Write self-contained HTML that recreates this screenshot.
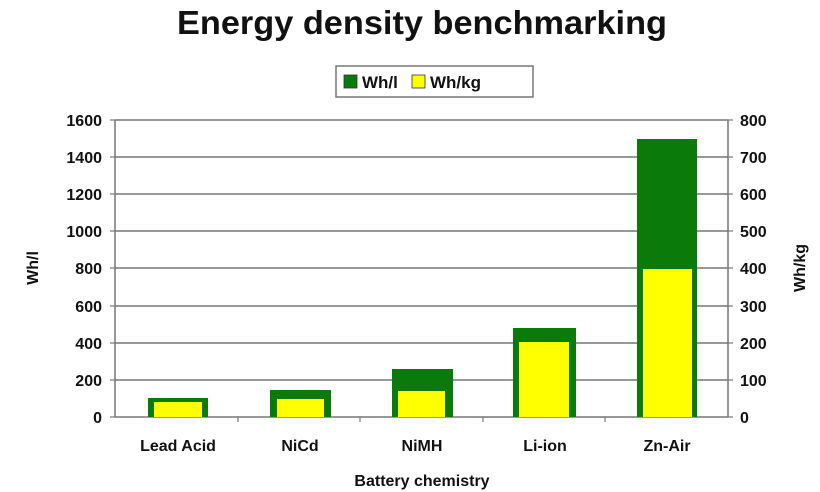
<!DOCTYPE html>
<html><head><meta charset="utf-8"><style>
body{margin:0;background:#fff;}
svg{display:block;font-family:"Liberation Sans",Arial,sans-serif;font-weight:bold;}
</style></head><body>
<svg width="820" height="492" viewBox="0 0 820 492">
<text x="422" y="34" font-size="33" text-anchor="middle" fill="#111" textLength="490" lengthAdjust="spacingAndGlyphs">Energy density benchmarking</text>
<rect x="336" y="66" width="197" height="31" fill="#fff" stroke="#777" stroke-width="1.5"/>
<rect x="344" y="75" width="13" height="13" fill="#0a7a0a" stroke="#333" stroke-width="0.8"/>
<text x="362" y="88" font-size="17" fill="#111">Wh/l</text>
<rect x="412" y="75" width="13" height="13" fill="#ffff00" stroke="#333" stroke-width="0.8"/>
<text x="430" y="88" font-size="17" fill="#111">Wh/kg</text>
<g stroke="#777" stroke-width="1.5">
<line x1="115" y1="120" x2="728" y2="120"/>
<line x1="115" y1="157" x2="728" y2="157"/>
<line x1="115" y1="194" x2="728" y2="194"/>
<line x1="115" y1="231" x2="728" y2="231"/>
<line x1="115" y1="268" x2="728" y2="268"/>
<line x1="115" y1="306" x2="728" y2="306"/>
<line x1="115" y1="343" x2="728" y2="343"/>
<line x1="115" y1="380" x2="728" y2="380"/>
<line x1="115" y1="417" x2="728" y2="417"/>
<line x1="115" y1="120" x2="115" y2="417"/>
<line x1="728" y1="120" x2="728" y2="417"/>
</g>
<g stroke="#777" stroke-width="1.2">
<line x1="110" y1="120" x2="115" y2="120"/><line x1="110" y1="157" x2="115" y2="157"/><line x1="110" y1="194" x2="115" y2="194"/><line x1="110" y1="231" x2="115" y2="231"/><line x1="110" y1="268" x2="115" y2="268"/><line x1="110" y1="306" x2="115" y2="306"/><line x1="110" y1="343" x2="115" y2="343"/><line x1="110" y1="380" x2="115" y2="380"/><line x1="110" y1="417" x2="115" y2="417"/>
<line x1="728" y1="120" x2="733" y2="120"/><line x1="728" y1="157" x2="733" y2="157"/><line x1="728" y1="194" x2="733" y2="194"/><line x1="728" y1="231" x2="733" y2="231"/><line x1="728" y1="268" x2="733" y2="268"/><line x1="728" y1="306" x2="733" y2="306"/><line x1="728" y1="343" x2="733" y2="343"/><line x1="728" y1="380" x2="733" y2="380"/><line x1="728" y1="417" x2="733" y2="417"/>
<line x1="238" y1="417" x2="238" y2="422"/><line x1="360" y1="417" x2="360" y2="422"/><line x1="483" y1="417" x2="483" y2="422"/><line x1="605" y1="417" x2="605" y2="422"/>
</g>
<g fill="#0a7a0a">
<rect x="148" y="398" width="60" height="19"/>
<rect x="270" y="390" width="61" height="27"/>
<rect x="392" y="369" width="61" height="48"/>
<rect x="513" y="328" width="63" height="89"/>
<rect x="637" y="139" width="60" height="278"/>
</g>
<g fill="#ffff00">
<rect x="154" y="402" width="48" height="15"/>
<rect x="277" y="399" width="47" height="18"/>
<rect x="398" y="391" width="47" height="26"/>
<rect x="519" y="342" width="50" height="75"/>
<rect x="643" y="269" width="49" height="148"/>
</g>
<g font-size="16" fill="#111" text-anchor="end">
<text x="102" y="126">1600</text><text x="102" y="163">1400</text><text x="102" y="200">1200</text><text x="102" y="237">1000</text><text x="102" y="274">800</text><text x="102" y="312">600</text><text x="102" y="349">400</text><text x="102" y="386">200</text><text x="102" y="423">0</text>
</g>
<g font-size="16" fill="#111" text-anchor="start">
<text x="740" y="126">800</text><text x="740" y="163">700</text><text x="740" y="200">600</text><text x="740" y="237">500</text><text x="740" y="274">400</text><text x="740" y="312">300</text><text x="740" y="349">200</text><text x="740" y="386">100</text><text x="740" y="423">0</text>
</g>
<g font-size="16" fill="#111" text-anchor="middle">
<text x="178" y="451">Lead Acid</text><text x="300" y="451">NiCd</text><text x="422" y="451">NiMH</text><text x="545" y="451">Li-ion</text><text x="667" y="451">Zn-Air</text>
<text x="422" y="486">Battery chemistry</text>
<text transform="translate(38,268) rotate(-90)">Wh/l</text>
<text transform="translate(805,268) rotate(-90)">Wh/kg</text>
</g>
</svg>
</body></html>
